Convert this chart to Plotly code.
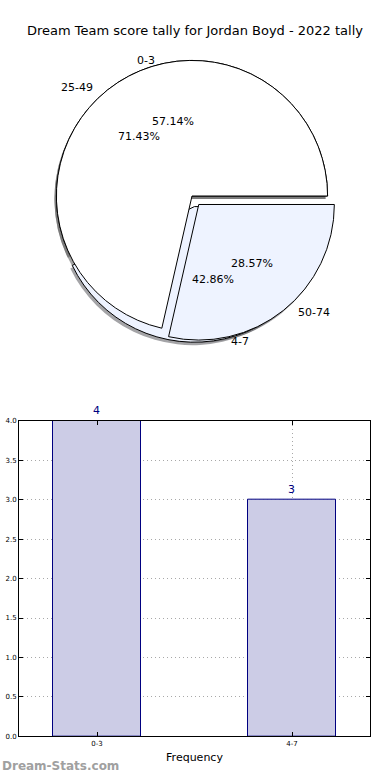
import math
import plotly.graph_objects as go

W, H = 390, 780

title = "Dream Team score tally for Jordan Boyd - 2022 tally"

# pie 1 (score tally)
pie1_labels = ["0-3", "4-7"]
pie1_values = [4, 3]
# pie 2
pie2_labels = ["25-49", "50-74"]
pie2_values = [5, 2]
pie_colors = ["#ffffff", "#eef3ff"]
explode = [0, 0.08]

# bar chart
bar_cats = ["0-3", "4-7"]
bar_values = [4, 3]
y_ticks = [0.0, 0.5, 1.0, 1.5, 2.0, 2.5, 3.0, 3.5, 4.0]

# pie geometry (pixels)
cx, cy, r = 192.0, 194.0, 137.0
rx_txt, ry_txt = 141.0, 128.0
half = r * (1 + max(explode))


def px_x(x):
    return x / W


def px_y(y):
    return 1 - y / H


fig = go.Figure()


def pie_trace(labels, values, colors, dx=0, dy=0, line=True):
    # matplotlib draws counterclockwise from 3 o'clock; plotly clockwise from
    # 3 o'clock with the slice order reversed gives the same layout
    return go.Pie(
        labels=labels[::-1], values=values[::-1], sort=False,
        direction="clockwise", rotation=90,
        pull=explode[::-1], textinfo="none", hoverinfo="label+percent",
        showlegend=False,
        marker=dict(colors=colors[::-1],
                    line=dict(color="black" if line else "rgba(0,0,0,0)", width=1 if line else 0)),
        domain=dict(x=[px_x(cx - half + dx), px_x(cx + half + dx)],
                    y=[px_y(cy + half + dy), px_y(cy - half + dy)]),
    )


shadow = ["rgba(90,90,90,0.55)", "rgba(90,90,95,0.55)"]
pies = [(pie1_labels, pie1_values), (pie2_labels, pie2_values)]
for labels, values in pies:
    fig.add_trace(pie_trace(labels, values, shadow, dx=-2, dy=3, line=False))
for labels, values in pies:
    fig.add_trace(pie_trace(labels, values, pie_colors))

annotations = []
for labels, values in pies:
    total = sum(values)
    start = 0.0
    for lab, v, e in zip(labels, values, explode):
        frac = v / total
        mid = math.radians((start + frac / 2) * 360)
        start += frac
        c, s = math.cos(mid), math.sin(mid)
        ox, oy = cx + e * rx_txt * c, cy - e * ry_txt * s
        lx, ly = ox + 1.1 * rx_txt * c, oy - 1.1 * ry_txt * s
        annotations.append(dict(
            x=px_x(lx), y=px_y(ly), xref="paper", yref="paper",
            text=lab, showarrow=False,
            xanchor="left" if c > 0 else "right", yanchor="middle",
            font=dict(family="DejaVu Sans", size=11, color="black")))
        tx, ty = ox + 0.6 * rx_txt * c, oy - 0.6 * ry_txt * s
        annotations.append(dict(
            x=px_x(tx), y=px_y(ty), xref="paper", yref="paper",
            text=f"{frac * 100:.2f}%", showarrow=False,
            xanchor="center", yanchor="middle",
            font=dict(family="DejaVu Sans", size=11, color="black")))

fig.add_trace(go.Bar(
    x=bar_cats, y=bar_values, width=0.45,
    marker=dict(color="#ccccE6", line=dict(color="#000080", width=1)),
    text=[str(v) for v in bar_values], textposition="outside",
    textfont=dict(family="DejaVu Sans", size=11, color="#000080"),
    cliponaxis=False, showlegend=False, xaxis="x", yaxis="y",
))

annotations.append(dict(
    x=0, y=px_y(770), xref="paper", yref="paper", xanchor="left", yanchor="middle",
    text="<b>Dream-Stats.com</b>", showarrow=False,
    font=dict(family="DejaVu Sans", size=12, color="#a0a0a0")))

grid = dict(showgrid=True, gridcolor="#a8a8a8", griddash="1px,3px", gridwidth=1)

fig.update_layout(
    width=W, height=H, margin=dict(l=0, r=0, t=0, b=0),
    paper_bgcolor="white", plot_bgcolor="white",
    title=dict(text=title, x=0.5, xanchor="center", y=px_y(30), yanchor="middle",
               font=dict(family="DejaVu Sans", size=13, color="black")),
    annotations=annotations,
    xaxis=dict(domain=[px_x(19), px_x(370)], type="category", range=[-0.4, 1.4],
               showline=True, linecolor="black", linewidth=1, mirror="ticks",
               ticks="inside", ticklen=4, tickcolor="black",
               tickfont=dict(family="DejaVu Sans", size=7, color="black"),
               title=dict(text="Frequency", standoff=6,
                          font=dict(family="DejaVu Sans", size=11, color="black")),
               zeroline=False, anchor="y", **grid),
    yaxis=dict(domain=[px_y(740), px_y(421)], range=[0, 4], tickvals=y_ticks,
               ticktext=[f"{t:.1f}" for t in y_ticks],
               showline=True, linecolor="black", linewidth=1, mirror="ticks",
               ticks="inside", ticklen=4, tickcolor="black",
               tickfont=dict(family="DejaVu Sans", size=7, color="black"),
               zeroline=False, anchor="x", **grid),
    bargap=0,
)

fig.write_html(
    "out.html",
    config={"displayModeBar": False},
    post_script="document.body.style.margin='0';document.body.style.overflow='hidden';",
)
